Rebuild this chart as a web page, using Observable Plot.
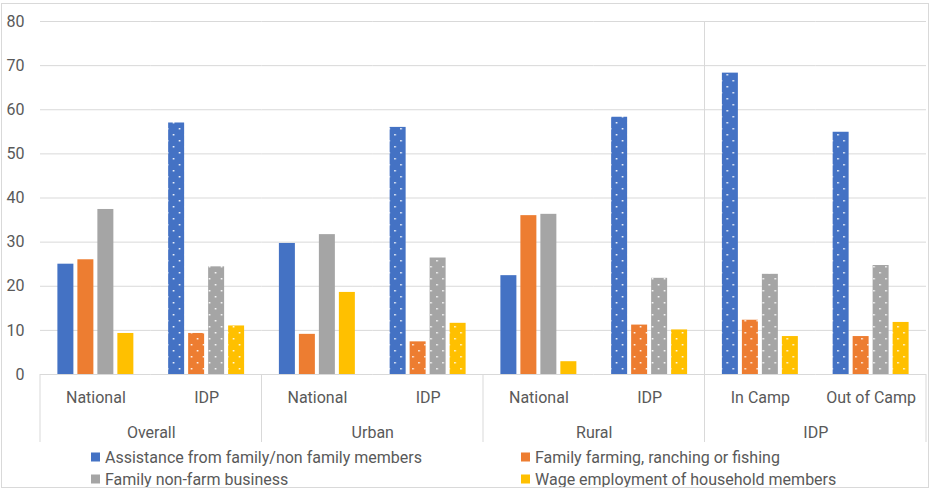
<!DOCTYPE html>
<html>
<head>
<meta charset="utf-8">
<script src="https://cdn.jsdelivr.net/npm/d3@7"></script>
<script src="https://cdn.jsdelivr.net/npm/@observablehq/plot@0.6"></script>
<style>
  body { margin: 0; background: #fff; font-family: Roboto, "Open Sans", sans-serif; }
  #wrap { position: relative; width: 932px; height: 490px; overflow: hidden; }
  #border { position: absolute; left: 1px; top: 3px; width: 928px; height: 485px; border: 1px solid #d9d9d9; box-sizing: border-box; pointer-events: none; }
  #chart { position: absolute; left: 0; top: 0; }
  #legend { position: absolute; left: 0; top: 442px; width: 932px; height: 48px; }
  .li { position: absolute; display: flex; align-items: center; font-size: 16px; color: #595959; white-space: nowrap; transform: translateY(-50%); }
  .sw { width: 9px; height: 9px; margin-right: 5px; flex: none; }
</style>
</head>
<body>
<div id="wrap">
  <div id="chart"></div>
  <div id="legend"></div>
  <div id="border"></div>
</div>
<script>
// ---- data ----
const groups = ["Overall", "Overall", "Urban", "Urban", "Rural", "Rural", "IDP", "IDP"];
const subcategories = ["National", "IDP", "National", "IDP", "National", "IDP", "In Camp", "Out of Camp"];
const patterned = [false, true, false, true, false, true, true, true];
const series = [
  "Assistance from family/non family members",
  "Family farming, ranching or fishing",
  "Family non-farm business",
  "Wage employment of household members"
];
const assistance = [25.0, 57.0, 29.7, 56.0, 22.4, 58.3, 68.3, 54.9];
const farming    = [26.0,  9.3,  9.1,  7.4, 36.0, 11.2, 12.3,  8.6];
const nonFarm    = [37.4, 24.4, 31.7, 26.4, 36.3, 21.8, 22.7, 24.7];
const wage       = [ 9.3, 11.0, 18.6, 11.6,  2.9, 10.1,  8.6, 11.8];
const yTicks = [0, 10, 20, 30, 40, 50, 60, 70, 80];
const colors = ["#4472C4", "#ED7D31", "#A5A5A5", "#FFC000"];
const groupNames = ["Overall", "Urban", "Rural", "IDP"];

// ---- build table ----
const keys = subcategories.map((s, i) => `${groups[i]}|${s}`);
const seriesValues = [assistance, farming, nonFarm, wage];
const rows = [];
keys.forEach((k, i) => series.forEach((s, j) => rows.push({
  key: k, series: s, value: seriesValues[j][i],
  fill: patterned[i] ? `url(#dots-${j})` : colors[j]
})));
const groupRows = groupNames.map(g => ({ key: keys[groups.indexOf(g)], label: g }));
const subLabel = new Map(keys.map((k, i) => [k, subcategories[i]]));

const chart = Plot.plot({
  width: 932,
  height: 442,
  marginLeft: 40,
  marginRight: 6,
  marginTop: 21,
  marginBottom: 68,
  style: { fontFamily: "Roboto, 'Open Sans', sans-serif", fontSize: "16px", color: "#595959", background: "transparent", overflow: "visible" },
  fx: { domain: keys, padding: 0, round: false, label: null, axis: "bottom", tickSize: 0, tickPadding: 17, tickFormat: k => subLabel.get(k) },
  x: { domain: series, paddingInner: 0.2, paddingOuter: 0.87, round: false, axis: null },
  y: { domain: [0, 80], ticks: yTicks, label: null, tickSize: 0, tickPadding: 16 },
  color: { type: "identity" },
  marks: [
    Plot.ruleY(yTicks, { stroke: "#d9d9d9", strokeWidth: 1 }),
    Plot.barY(rows, { fx: "key", x: "series", y: "value", fill: "fill" }),
    Plot.text(groupRows, { fx: "key", text: "label", frameAnchor: "bottom-right", textAnchor: "middle", lineAnchor: "middle", dy: 58, fill: "#595959", fontSize: 16 })
  ]
});
document.getElementById("chart").appendChild(chart);

// ---- patterns ----
const svg = d3.select(chart);
const defs = svg.insert("defs", ":first-child");
colors.forEach((c, j) => {
  const p = defs.append("pattern").attr("id", `dots-${j}`).attr("patternUnits", "userSpaceOnUse")
    .attr("width", 12).attr("height", 12);
  p.append("rect").attr("width", 12).attr("height", 12).attr("fill", c);
  p.append("rect").attr("x", 2).attr("y", 2).attr("width", 1.5).attr("height", 1.5).attr("fill", "#fff");
  p.append("rect").attr("x", 8).attr("y", 8).attr("width", 1.5).attr("height", 1.5).attr("fill", "#fff");
});

// ---- hierarchical axis separators ----
const fx = chart.scale("fx");
const y = chart.scale("y");
const bw = fx.bandwidth;
const y0 = y.apply(0), yTop = y.apply(80), yBottom = 442;
const sepX = groupNames.map(g => fx.apply(keys[groups.indexOf(g)]));
sepX.push(fx.apply(keys[keys.length - 1]) + bw);
const sep = svg.append("g").attr("stroke", "#d9d9d9").attr("stroke-width", 1);
sepX.forEach(x => {
  sep.append("line").attr("x1", x).attr("x2", x).attr("y1", y0).attr("y2", yBottom);
});
const idpX = fx.apply(keys[groups.indexOf("IDP")]);
sep.append("line").attr("x1", idpX).attr("x2", idpX).attr("y1", yTop).attr("y2", y0);

// ---- legend ----
const legend = document.getElementById("legend");
const legendPos = [[91, 15], [521, 15], [91, 37], [521, 37]];
series.forEach((s, j) => {
  const d = document.createElement("div");
  d.className = "li";
  d.style.left = legendPos[j][0] + "px";
  d.style.top = legendPos[j][1] + "px";
  d.innerHTML = `<span class="sw" style="background:${colors[j]}"></span><span>${s}</span>`;
  legend.appendChild(d);
});
</script>
</body>
</html>
